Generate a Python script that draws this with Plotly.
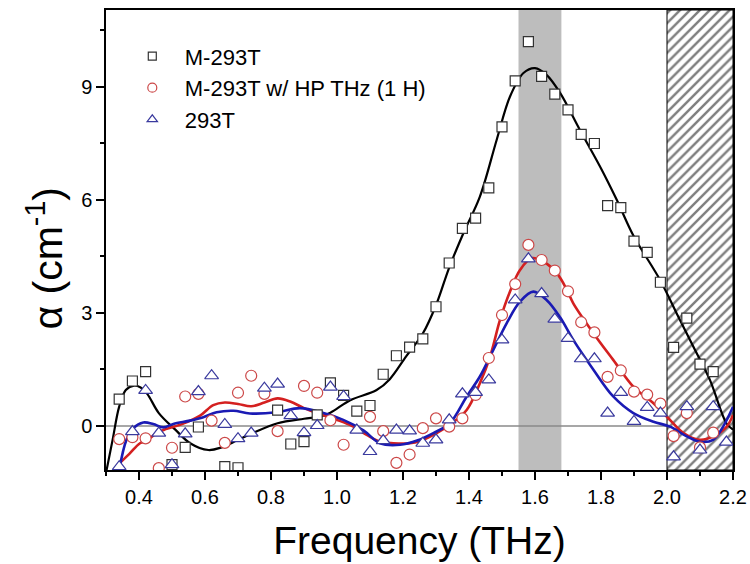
import plotly.graph_objects as go

# ---- data ----
sq_x = [0.34, 0.38, 0.42, 0.50, 0.54, 0.58, 0.66, 0.70, 0.82, 0.86, 0.90, 0.94, 0.98, 1.02, 1.06, 1.10,
        1.14, 1.18, 1.22, 1.26, 1.30, 1.34, 1.38, 1.42, 1.46, 1.50, 1.54, 1.58, 1.62, 1.66, 1.70, 1.74,
        1.78, 1.82, 1.86, 1.90, 1.94, 1.98, 2.02, 2.06, 2.10, 2.14]
sq_y = [0.71, 1.19, 1.44, -1.03, -0.57, -0.03, -1.08, -1.11, 0.42, -0.48, -0.42, 0.29, 1.14, 0.81, 0.39, 0.54,
        1.37, 1.86, 2.09, 2.31, 3.16, 4.32, 5.24, 5.51, 6.31, 7.93, 9.15, 10.19, 9.27, 8.80, 8.38, 7.73,
        7.49, 5.84, 5.79, 4.90, 4.60, 3.81, 2.08, 2.86, 1.64, 1.44]

ci_x = [0.34, 0.38, 0.42, 0.46, 0.50, 0.54, 0.58, 0.62, 0.66, 0.70, 0.74, 0.78, 0.82, 0.90, 0.94, 0.98,
        1.02, 1.10, 1.14, 1.18, 1.22, 1.26, 1.30, 1.34, 1.38, 1.42, 1.46, 1.50, 1.54, 1.58, 1.62, 1.66,
        1.70, 1.74, 1.78, 1.82, 1.86, 1.90, 1.94, 1.98, 2.02, 2.06, 2.10, 2.14]
ci_y = [-0.35, -0.30, -0.33, -1.12, -0.58, 0.78, 0.85, 0.14, -0.45, 0.88, 1.33, 0.85, -0.14, 1.06, 0.88, 0.15,
        -0.50, 0.24, -0.14, -0.98, -0.76, -0.06, 0.20, -0.02, 0.20, 0.82, 1.80, 2.94, 3.76, 4.80, 4.40, 4.12,
        3.57, 2.75, 2.48, 1.30, 1.47, 0.91, 0.83, 0.59, -0.27, 0.34, -0.57, -0.18]

tr_x = [0.34, 0.38, 0.42, 0.46, 0.50, 0.54, 0.58, 0.62, 0.66, 0.70, 0.74, 0.78, 0.82, 0.86, 0.90, 0.94,
        0.98, 1.02, 1.06, 1.10, 1.14, 1.18, 1.22, 1.26, 1.30, 1.34, 1.38, 1.42, 1.46, 1.50, 1.54, 1.58,
        1.62, 1.66, 1.70, 1.74, 1.78, 1.82, 1.86, 1.90, 1.94, 1.98, 2.02, 2.06, 2.10, 2.14, 2.18]
tr_y = [-1.08, -0.15, 0.94, -0.19, -1.03, -0.21, 0.91, 1.33, 0.04, -0.34, -0.19, 1.00, 1.11, 0.27, -0.18, 0.01,
        1.03, 0.78, -0.11, -0.68, -0.39, -0.11, -0.13, -0.46, -0.37, 0.16, 0.85, 0.89, 1.22, 2.28, 3.34, 4.43,
        3.51, 2.83, 2.32, 1.78, 1.78, 0.34, 0.89, 0.12, 0.49, 0.34, -0.82, 0.51, -0.64, 0.51, -0.43]

# smooth fit curves
fit_k_x = [0.30, 0.32, 0.34, 0.36, 0.385, 0.405, 0.425, 0.46, 0.51, 0.555, 0.61, 0.65, 0.70, 0.74, 0.82,
           0.90, 0.95, 0.98, 1.04, 1.12, 1.16, 1.21, 1.26, 1.30, 1.34, 1.383, 1.433, 1.484, 1.524, 1.565,
           1.60, 1.635, 1.676, 1.736, 1.797, 1.848, 1.898, 1.979, 2.029, 2.08, 2.13, 2.18, 2.20]
fit_k_y = [-1.25, -0.37, 0.51, 0.95, 1.07, 1.02, 0.85, 0.34, -0.10, -0.46, -0.64, -0.57, -0.37, -0.21, 0.07,
           0.19, 0.25, 0.35, 0.68, 0.95, 1.24, 1.85, 2.45, 3.20, 4.20, 5.11, 6.08, 7.59, 8.73, 9.36,
           9.49, 9.31, 8.83, 7.85, 6.88, 5.99, 5.05, 3.87, 2.99, 2.10, 1.22, 0.07, -0.10]

fit_r_x = [0.34, 0.37, 0.403, 0.423, 0.453, 0.484, 0.534, 0.585, 0.625, 0.66, 0.70, 0.74, 0.78, 0.82, 0.86,
           0.90, 0.969, 1.039, 1.09, 1.13, 1.171, 1.221, 1.252, 1.302, 1.342, 1.393, 1.433, 1.464, 1.494,
           1.524, 1.555, 1.59, 1.625, 1.666, 1.696, 1.716, 1.777, 1.837, 1.898, 1.959, 1.999, 2.05, 2.10,
           2.14, 2.181, 2.20]
fit_r_y = [-1.00, -0.75, -0.46, -0.40, -0.19, -0.08, 0.06, 0.27, 0.55, 0.62, 0.58, 0.52, 0.62, 0.73, 0.64,
           0.47, 0.25, 0.03, -0.24, -0.42, -0.46, -0.46, -0.40, -0.19, 0.03, 0.42, 1.13, 1.84, 2.81,
           3.56, 4.14, 4.45, 4.36, 4.05, 3.62, 3.25, 2.46, 1.75, 1.04, 0.60, 0.25, -0.19, -0.37,
           -0.28, -0.02, 0.29]

fit_b_x = [0.34, 0.362, 0.383, 0.413, 0.443, 0.474, 0.504, 0.555, 0.595, 0.635, 0.686, 0.736, 0.817, 0.888,
           0.959, 1.019, 1.08, 1.13, 1.191, 1.245, 1.292, 1.342, 1.393, 1.433, 1.474, 1.514, 1.555, 1.595,
           1.635, 1.676, 1.716, 1.777, 1.837, 1.898, 1.959, 2.009, 2.06, 2.10, 2.14, 2.17, 2.20]
fit_b_y = [-1.17, -0.37, -0.06, 0.09, 0.05, -0.04, 0.05, 0.14, 0.23, 0.36, 0.40, 0.33, 0.36, 0.47,
           0.34, 0.16, -0.12, -0.46, -0.50, -0.38, -0.19, 0.07, 0.78, 1.31, 2.02, 2.72, 3.30, 3.56,
           3.34, 2.88, 2.28, 1.49, 0.78, 0.34, 0.11, -0.02, -0.28, -0.42, -0.37, -0.02, 0.51]

x_ticks = [0.4, 0.6, 0.8, 1.0, 1.2, 1.4, 1.6, 1.8, 2.0, 2.2]
x_labels = ["0.4", "0.6", "0.8", "1.0", "1.2", "1.4", "1.6", "1.8", "2.0", "2.2"]
y_ticks = [0, 3, 6, 9]
y_labels = ["0", "3", "6", "9"]

band = [1.55, 1.68]
hatch = [2.0, 2.2]
XR = [0.3, 2.2]
YR = [-1.17, 11.03]

FONT = "Liberation Sans, Arial, sans-serif"

fig = go.Figure()

# hatched region (pattern-filled polygon)
fig.add_trace(go.Scatter(
    x=[hatch[0], hatch[1], hatch[1], hatch[0], hatch[0]],
    y=[YR[0], YR[0], YR[1], YR[1], YR[0]],
    mode="lines", fill="toself", line=dict(color="black", width=1),
    fillcolor="white",
    fillpattern=dict(shape="/", fgcolor="black", bgcolor="white", size=7, solidity=0.35),
    showlegend=False, hoverinfo="skip"))

# fitted lines
fig.add_trace(go.Scatter(x=fit_k_x, y=fit_k_y, mode="lines", line=dict(color="black", width=2.2, shape="spline", smoothing=1.0),
                         showlegend=False, hoverinfo="skip"))
fig.add_trace(go.Scatter(x=fit_r_x, y=fit_r_y, mode="lines", line=dict(color="#d42020", width=2.6, shape="spline", smoothing=1.0),
                         showlegend=False, hoverinfo="skip"))
fig.add_trace(go.Scatter(x=fit_b_x, y=fit_b_y, mode="lines", line=dict(color="#1a1ab4", width=2.6, shape="spline", smoothing=1.0),
                         showlegend=False, hoverinfo="skip"))

SQ = dict(symbol="square", color="white", line=dict(color="#333333", width=1.2))
CI = dict(symbol="circle", color="white", line=dict(color="#cc4848", width=1.2))
TR = dict(symbol="triangle-up", color="white", line=dict(color="#3a3a9e", width=1.2))

# markers
fig.add_trace(go.Scatter(x=sq_x, y=sq_y, mode="markers", name="M-293T", showlegend=False,
                         marker=dict(size=10, **SQ)))
fig.add_trace(go.Scatter(x=ci_x, y=ci_y, mode="markers", name="M-293T w/ HP THz (1 H)", showlegend=False,
                         marker=dict(size=11, **CI)))
fig.add_trace(go.Scatter(x=tr_x, y=tr_y, mode="markers", name="293T", showlegend=False,
                         marker=dict(size=12, **TR)))

# legend entries (smaller symbols, as in the reference legend)
fig.add_trace(go.Scatter(x=[None], y=[None], mode="markers", name="M-293T", marker=dict(size=8, **SQ)))
fig.add_trace(go.Scatter(x=[None], y=[None], mode="markers", name="M-293T w/ HP THz (1 H)", marker=dict(size=9, **CI)))
fig.add_trace(go.Scatter(x=[None], y=[None], mode="markers", name="293T", marker=dict(size=9, **TR)))

fig.update_layout(
    width=750, height=564,
    margin=dict(l=106, r=17, t=10, b=94, autoexpand=False),
    paper_bgcolor="white", plot_bgcolor="white",
    font=dict(family=FONT, color="black"),
    showlegend=True,
    legend=dict(x=0.022, y=0.945, xanchor="left", yanchor="top",
                bgcolor="rgba(0,0,0,0)", font=dict(size=22, family=FONT),
                itemsizing="trace", itemwidth=55, tracegroupgap=0),
    shapes=[
        dict(type="rect", xref="x", yref="paper", x0=band[0], x1=band[1], y0=0, y1=1,
             fillcolor="#bdbdbd", line=dict(width=0), layer="below"),
        dict(type="line", xref="x", yref="y", x0=XR[0], x1=hatch[0], y0=0, y1=0,
             line=dict(color="#8a8a8a", width=1.5), layer="below"),
    ],
    annotations=[
        dict(text="α (cm<sup>-1</sup>)", xref="paper", yref="paper", x=-0.097, y=0.46,
             xanchor="center", yanchor="middle", textangle=-90, showarrow=False,
             font=dict(size=41, family=FONT, color="black")),
    ],
)

fig.update_xaxes(range=XR, tickmode="array", tickvals=x_ticks, ticktext=x_labels,
                 ticks="outside", ticklen=8, tickwidth=1.5, tickcolor="black",
                 minor=dict(dtick=0.1, tick0=0.3, ticks="outside", ticklen=4, tickwidth=1.5, tickcolor="black"),
                 showline=True, linecolor="black", linewidth=1.5, mirror=True,
                 showgrid=False, zeroline=False, automargin=False,
                 tickfont=dict(size=20, family=FONT),
                 title=dict(text="Frequency (THz)", font=dict(size=39, family=FONT), standoff=20))

fig.update_yaxes(range=YR, tickmode="array", tickvals=y_ticks, ticktext=y_labels,
                 ticks="outside", ticklen=8, tickwidth=1.5, tickcolor="black",
                 minor=dict(dtick=1.5, tick0=0, ticks="outside", ticklen=4, tickwidth=1.5, tickcolor="black"),
                 showline=True, linecolor="black", linewidth=1.5, mirror=True,
                 showgrid=False, zeroline=False, automargin=False,
                 tickfont=dict(size=20, family=FONT))

fig.write_html("out.html", config={"displayModeBar": False},
               post_script="document.body.style.margin='0';")
